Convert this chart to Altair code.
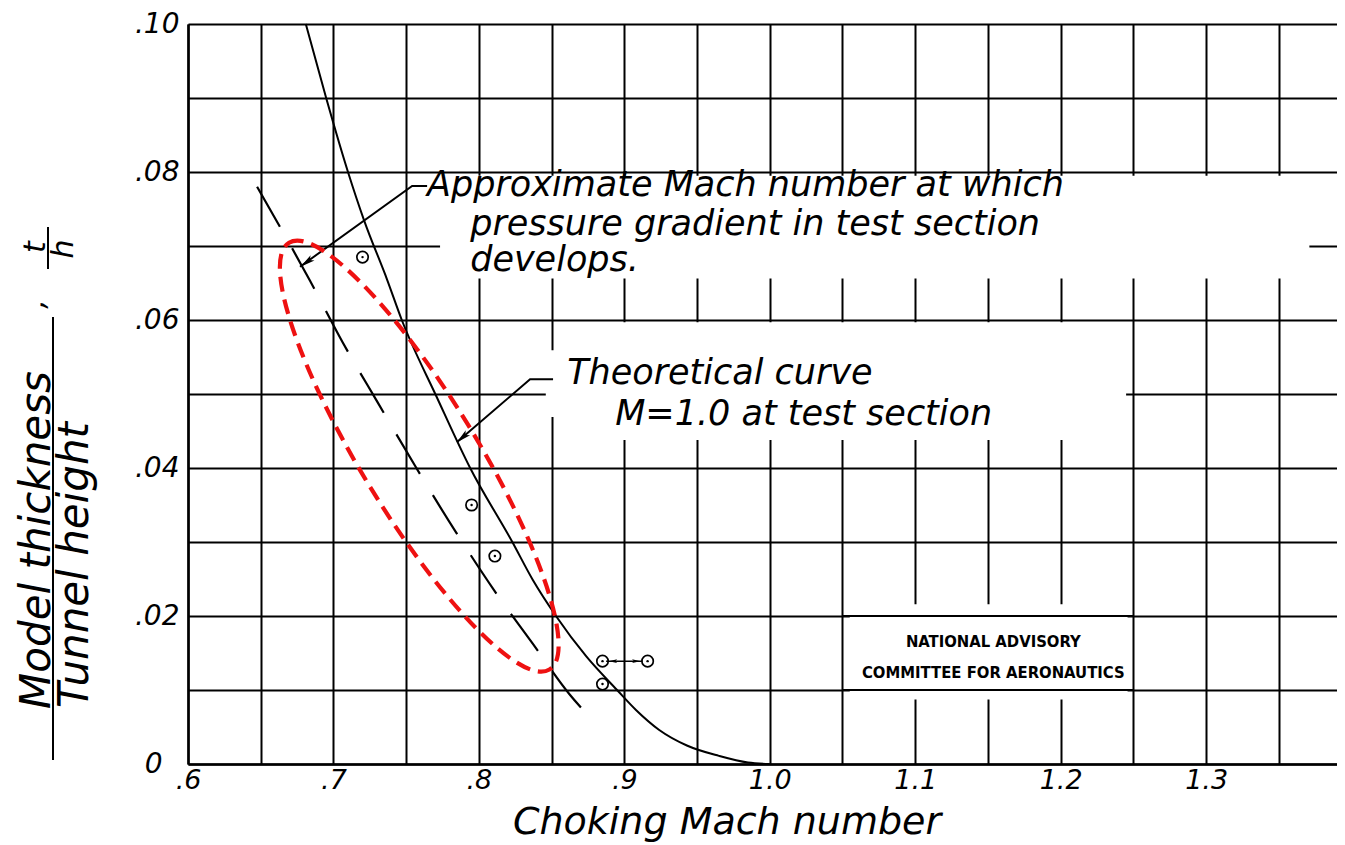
import json
import altair as alt
import pandas as pd

# ---------------- data ----------------
# Theoretical curve: M = 1.0 at test section
theory_mach = [0.681, 0.695, 0.710, 0.721, 0.737, 0.747, 0.771, 0.794, 0.823, 0.837,
               0.853, 0.874, 0.895, 0.908, 0.924, 0.943, 0.965, 0.985, 1.000]
theory_th = [0.100, 0.090, 0.080, 0.0735, 0.0654, 0.0600, 0.0496, 0.0400, 0.0300, 0.0249,
             0.0200, 0.0145, 0.0100, 0.0073, 0.0046, 0.0025, 0.0011, 0.0002, 0.0000]

# Approximate Mach number at which pressure gradient in test section develops (dashed)
grad_mach = [0.6475, 0.6839, 0.7063, 0.7303, 0.7561, 0.7843, 0.8104, 0.8369, 0.8620, 0.8730]
grad_th = [0.0780, 0.0653, 0.0570, 0.0489, 0.0403, 0.0313, 0.0235, 0.0163, 0.0095, 0.0070]

# Experimental choking points
exp_mach = [0.720, 0.795, 0.811, 0.885, 0.916, 0.885]
exp_th = [0.0685, 0.0350, 0.0281, 0.0139, 0.0139, 0.0108]

# Axis ticks / grid
x_grid = [0.6, 0.65, 0.7, 0.75, 0.8, 0.85, 0.9, 0.95, 1.0, 1.05, 1.1, 1.15, 1.2, 1.25, 1.3, 1.35]
x_label_values = [0.6, 0.7, 0.8, 0.9, 1.0, 1.1, 1.2, 1.3]
x_label_text = [".6", ".7", ".8", ".9", "1.0", "1.1", "1.2", "1.3"]
y_grid = [0.0, 0.01, 0.02, 0.03, 0.04, 0.05, 0.06, 0.07, 0.08, 0.09, 0.1]
y_label_values = [0.0, 0.02, 0.04, 0.06, 0.08, 0.1]
y_label_text = ["0", ".02", ".04", ".06", ".08", ".10"]

# Annotation text
note1_lines = ["Approximate Mach number at which", "pressure gradient in test section", "develops."]
note2_lines = ["Theoretical curve", "M=1.0 at test section"]
naca_lines = ["NATIONAL ADVISORY", "COMMITTEE FOR AERONAUTICS"]
x_title = "Choking Mach number"
y_title_top = "Model thickness"
y_title_bottom = "Tunnel height"

# ---------------- styling / layout ----------------
HAND = "DejaVu Sans"
W, H = 1149, 740
xs = alt.Scale(domain=[0.6, 1.39], nice=False, zero=False)
ys = alt.Scale(domain=[0.0, 0.10], nice=False, zero=False)


def lbl_expr(vals, texts):
    v = json.dumps(vals)
    t = json.dumps(texts)
    return f"indexof({v}, datum.value) >= 0 ? {t}[indexof({v}, datum.value)] : ''"


xaxis = alt.Axis(values=x_grid, labelExpr=lbl_expr(x_label_values, x_label_text),
                 grid=True, gridColor="black", gridWidth=2, gridOpacity=1,
                 ticks=False, domain=True, domainColor="black", domainWidth=2.5,
                 labelFont=HAND, labelFontSize=27, labelFontStyle="italic",
                 labelColor="black", labelPadding=3,
                 labelOverlap=False, labelFlush=False, title=None)
yaxis = alt.Axis(values=y_grid, labelExpr=lbl_expr(y_label_values, y_label_text),
                 grid=True, gridColor="black", gridWidth=2, gridOpacity=1,
                 ticks=False, domain=True, domainColor="black", domainWidth=2.5,
                 labelFont=HAND, labelFontSize=28, labelFontStyle="italic",
                 labelColor="black",
                 labelPadding={"condition": {"test": "datum.value == 0", "value": 26}, "value": 9},
                 labelBaseline="middle",
                 labelOverlap=False, labelFlush=False, title=None)


def X(f):
    return alt.X(f, type="quantitative", scale=xs, axis=xaxis)


def Y(f):
    return alt.Y(f, type="quantitative", scale=ys, axis=yaxis)


# white patches where the lettering was placed over the grid
boxes = pd.DataFrame({
    "x1": [0.7733, 0.8545, 0.8460, 1.055],
    "x2": [1.371, 1.245, 0.8560, 1.246],
    "y1": [0.0656, 0.0438, 0.0469, 0.0087],
    "y2": [0.0795, 0.0597, 0.0559, 0.0216],
})
patch = alt.Chart(boxes).mark_rect(color="white", opacity=1).encode(
    x=X("x1"), x2="x2", y=Y("y1"), y2="y2")

naca_grid = alt.Chart(pd.DataFrame({"x1": [1.05, 1.05], "x2": [1.25, 1.25],
                                    "y": [0.01, 0.02]})).mark_rule(
    color="black", strokeWidth=2).encode(x=X("x1"), x2="x2", y=Y("y"))

theory = alt.Chart(pd.DataFrame({"M": theory_mach, "t": theory_th})).mark_line(
    color="black", strokeWidth=2, interpolate="monotone").encode(x=X("M"), y=Y("t"))

grad = alt.Chart(pd.DataFrame({"M": grad_mach, "t": grad_th})).mark_line(
    color="black", strokeWidth=2.2, strokeDash=[46, 25], interpolate="monotone").encode(
    x=X("M"), y=Y("t"))

pts = pd.DataFrame({"M": exp_mach, "t": exp_th})
rings = alt.Chart(pts).mark_point(shape="circle", filled=False, color="black",
                                  strokeWidth=1.7, size=130, opacity=1).encode(
    x=X("M"), y=Y("t"))
dots = alt.Chart(pts).mark_point(shape="circle", filled=True, color="black",
                                 size=6, opacity=1).encode(x=X("M"), y=Y("t"))

# leader lines of the notes
leaders = pd.DataFrame({
    "leader": ["a", "a", "a", "b", "b", "b"],
    "i": [0, 1, 2, 0, 1, 2],
    "M": [0.7644, 0.7541, 0.6770, 0.8510, 0.8352, 0.7850],
    "t": [0.0781, 0.0781, 0.0672, 0.0520, 0.0520, 0.0435],
})
leader_lines = alt.Chart(leaders).mark_line(color="black", strokeWidth=2).encode(
    x=X("M"), y=Y("t"), detail="leader:N", order="i:Q")

span = alt.Chart(pd.DataFrame({"M1": [0.8875], "M2": [0.9125], "t": [0.0139]})).mark_rule(
    color="black", strokeWidth=1.5).encode(x=X("M1"), x2="M2", y=Y("t"))

ARROW = "M 0 -1 L 0.45 1 L 0 0.55 L -0.45 1 Z"
heads = pd.DataFrame({"M": [0.6815, 0.7886], "t": [0.0678, 0.0441], "ang": [234, 229]})
big_heads = alt.Chart(heads).mark_point(shape=ARROW, filled=True, color="black",
                                        size=220, opacity=1).encode(
    x=X("M"), y=Y("t"), angle=alt.Angle("ang:Q", scale=None))
small = pd.DataFrame({"M": [0.8922, 0.9082], "t": [0.0139, 0.0139], "ang": [270, 90]})
small_heads = alt.Chart(small).mark_point(shape=ARROW, filled=True, color="black",
                                          size=70, opacity=1).encode(
    x=X("M"), y=Y("t"), angle=alt.Angle("ang:Q", scale=None))

# note texts
note_df = pd.DataFrame({
    "text": note1_lines + note2_lines,
    "M": [0.7644, 0.7940, 0.7940, 0.8607, 0.8937],
    "t": [0.0768, 0.0715, 0.0666, 0.0514, 0.0458],
})
notes = alt.Chart(note_df).mark_text(align="left", baseline="alphabetic", font=HAND,
                                     fontSize=35, fontStyle="italic", color="black").encode(
    x=X("M"), y=Y("t"), text="text:N")

naca_df = pd.DataFrame({"text": naca_lines, "M": [1.1537, 1.1537], "t": [0.0158, 0.0116]})
naca = alt.Chart(naca_df).mark_text(align="center", baseline="alphabetic",
                                    font="Liberation Sans Narrow, DejaVu Sans Condensed, sans-serif",
                                    fontWeight="bold", fontSize=16.5, color="black").encode(
    x=X("M"), y=Y("t"), text="text:N")

# red dashed ellipse highlighting the band
ELLIPSE = "M -1 0 A 1 0.232 0 1 1 1 0 A 1 0.232 0 1 1 -1 0 Z"
ell = alt.Chart(pd.DataFrame({"M": [0.759], "t": [0.0416]})).mark_point(
    shape=ELLIPSE, filled=False, color="#ee1111", strokeWidth=4.2, strokeDash=[15, 8],
    size=250000, angle=58.6, opacity=1).encode(x=X("M"), y=Y("t"))

# axis titles (hand lettered)
one = pd.DataFrame({"k": [0]})


def ttext(txt, x, y, size, angle=0, align="center", baseline="alphabetic"):
    kw = dict(align=align, baseline=baseline, font=HAND, fontSize=size,
              fontStyle="italic", color="black", text=txt)
    if angle:
        kw["angle"] = angle
    return alt.Chart(one).mark_text(**kw).encode(x=alt.value(x), y=alt.value(y))


xtitle = ttext(x_title, 539, 810, 38)
yt1 = ttext(y_title_top, -138, 516, 42, angle=270)
yt2 = ttext(y_title_bottom, -100, 541, 42, angle=270)
ycomma = ttext(",", -144, 280, 30, angle=270)
yt_t = ttext("t", -143, 223, 30, angle=270)
yt_h = ttext("h", -115, 225, 30, angle=270)
bar = alt.Chart(one).mark_rule(color="black", strokeWidth=2).encode(
    x=alt.value(-135), y=alt.value(293), y2=alt.value(736))
bar2 = alt.Chart(one).mark_rule(color="black", strokeWidth=2).encode(
    x=alt.value(-140), y=alt.value(203), y2=alt.value(245))

chart = alt.layer(
    patch, naca_grid, theory, grad, leader_lines, big_heads, span, small_heads,
    rings, dots, notes, naca, ell, xtitle, yt1, yt2, ycomma, yt_t, yt_h, bar, bar2
).properties(
    width=W, height=H,
    autosize=alt.AutoSizeParams(type="none"),
    padding={"left": 180, "top": 16, "right": 0, "bottom": 80},
    background="white",
).configure_view(stroke=None)

chart.save("out.html", embed_options={"renderer": "svg", "actions": False})
